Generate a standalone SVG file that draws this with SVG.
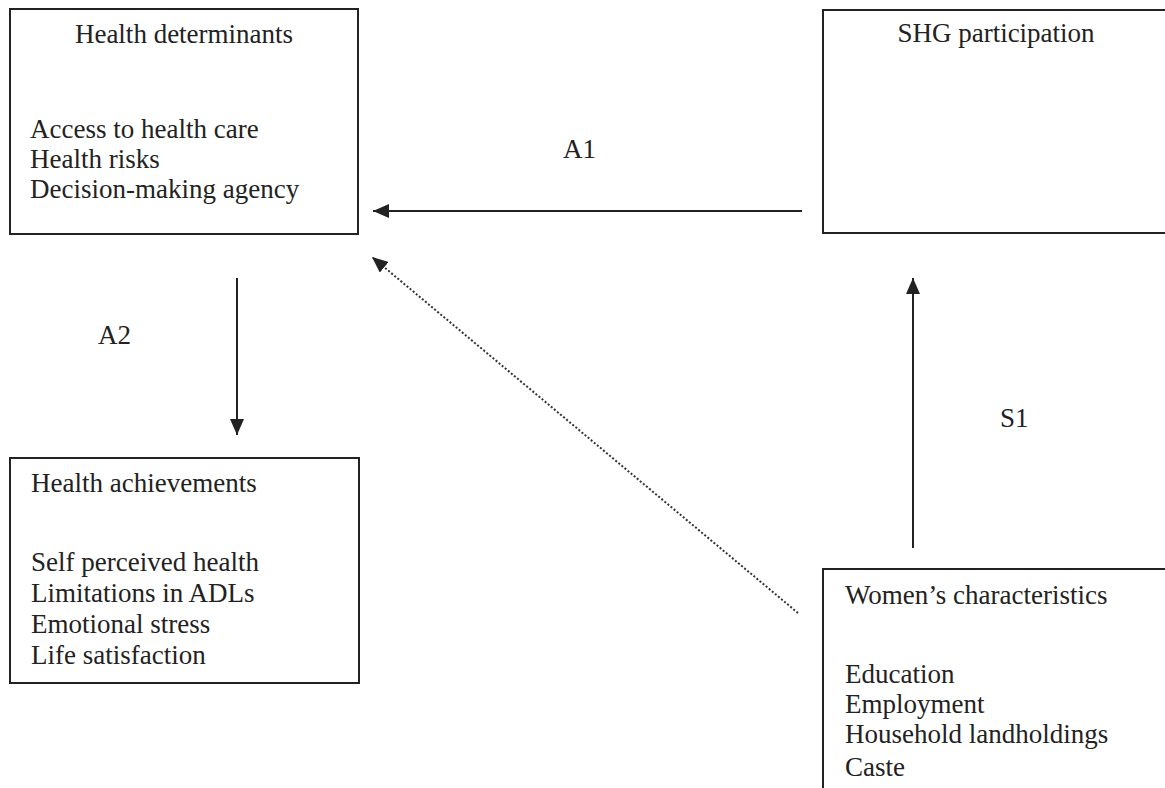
<svg xmlns="http://www.w3.org/2000/svg" width="1165" height="788" viewBox="0 0 1165 788">
<style>
  .box { fill: #fff; stroke: #222; stroke-width: 2; }
  .t { font-family: "Liberation Serif", "Times New Roman", serif; font-size: 27px; fill: #222; }
  .c { text-anchor: middle; }
  .line { stroke: #222; stroke-width: 2; fill: none; }
  .dot { stroke: #333; stroke-width: 2; stroke-dasharray: 2 2; fill: none; }
</style>
<defs>
  <marker id="ah" viewBox="0 0 16 14" refX="16" refY="7" markerWidth="16" markerHeight="14" markerUnits="userSpaceOnUse" orient="auto">
    <path d="M0,0 L16,7 L0,14 Z" fill="#222"/>
  </marker>
</defs>
<rect width="1165" height="788" fill="#fff"/>

<g id="connectors">
  <line class="line" x1="802" y1="211" x2="373" y2="211" marker-end="url(#ah)"/>
  <line class="line" x1="237" y1="278" x2="237" y2="435" marker-end="url(#ah)"/>
  <line class="line" x1="913" y1="548" x2="913" y2="278" marker-end="url(#ah)"/>
  <line class="dot" x1="798" y1="613" x2="372" y2="257" marker-end="url(#ah)"/>
  <text class="t" x="563" y="158">A1</text>
  <text class="t" x="98" y="344">A2</text>
  <text class="t" x="1000" y="427">S1</text>
</g>

<g id="health-determinants">
  <rect class="box" x="10" y="9" width="348" height="225"/>
  <text class="t c" x="184" y="43">Health determinants</text>
  <text class="t" x="30" y="138">Access to health care</text>
  <text class="t" x="30" y="168">Health risks</text>
  <text class="t" x="30" y="198">Decision-making agency</text>
</g>

<g id="shg-participation">
  <rect class="box" x="823" y="10" width="360" height="223"/>
  <text class="t c" x="996" y="42">SHG participation</text>
</g>

<g id="health-achievements">
  <rect class="box" x="10" y="458" width="349" height="225"/>
  <text class="t" x="31" y="492">Health achievements</text>
  <text class="t" x="31" y="571">Self perceived health</text>
  <text class="t" x="31" y="602">Limitations in ADLs</text>
  <text class="t" x="31" y="633">Emotional stress</text>
  <text class="t" x="31" y="664">Life satisfaction</text>
</g>

<g id="womens-characteristics">
  <rect class="box" x="823" y="569" width="360" height="240"/>
  <text class="t" x="845" y="604">Women’s characteristics</text>
  <text class="t" x="845" y="683">Education</text>
  <text class="t" x="845" y="713">Employment</text>
  <text class="t" x="845" y="743">Household landholdings</text>
  <text class="t" x="845" y="776">Caste</text>
</g>
</svg>
